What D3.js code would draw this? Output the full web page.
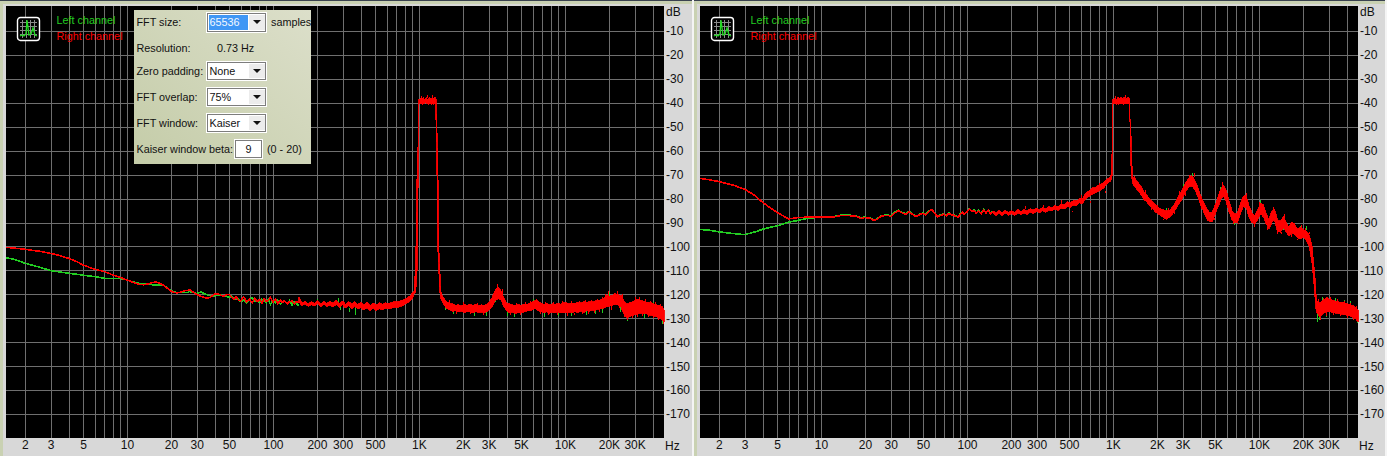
<!DOCTYPE html>
<html><head><meta charset="utf-8">
<script src="https://cdn.jsdelivr.net/npm/d3@7/dist/d3.min.js"></script>
<style>
html,body{margin:0;padding:0;background:#fff;overflow:hidden}
svg{display:block}
text{font-family:"Liberation Sans",Arial,sans-serif;font-size:10.8px;fill:#111}
</style></head><body><svg id="c" width="1387" height="456"></svg>
<script>
// ---------- axes ----------
const dbTicks=[-10,-20,-30,-40,-50,-60,-70,-80,-90,-100,-110,-120,-130,-140,-150,-160,-170];
const freqGrid=[2,3,4,5,6,7,8,9,10,20,30,40,50,60,70,80,90,100,200,300,400,500,600,700,800,900,1000,2000,3000,4000,5000,6000,7000,8000,9000,10000,20000,30000,40000];
const freqTicks=[2,3,5,10,20,30,50,100,200,300,500,1000,2000,3000,5000,10000,20000,30000];
const freqTickLabels=["2","3","5","10","20","30","50","100","200","300","500","1K","2K","3K","5K","10K","20K","30K"];
const channelNames=["Left channel","Right channel"];

// ---------- low frequency part, single traces ----------
const lineFreq=[1.49,1.7,2,2.5,3,3.5,4,4.5,5,5.5,
6,7,8,9,10,11,12,13,14,15,
16,17,18,19,20,21,22,23,24,25,
26,27,28,29,30,32,34,36,38,40,
42,44,46,48,50,52,54,56,58,60,
63,66,69,72,75,78,81,84,87,90,
93,96,100,104,108,112,116,120,125,130,
135,140,145,150];
const leftRedLine=[-100.4,-100.7,-101.2,-102,-102.9,-103.9,-105,-106.3,-107.7,-108.7,
-109.5,-110.5,-111.9,-113,-114,-115,-115.8,-116,-115.6,-115,
-114.9,-115.6,-116.4,-117.6,-118.6,-119.2,-119.4,-119.2,-118.8,-118.5,
-118.4,-118.2,-118.8,-119.4,-120,-120.8,-121.4,-121.6,-120.8,-119.8,
-119.8,-120.4,-120.8,-120.2,-120,-121.2,-122,-121,-122.4,-122.8,
-121,-123.2,-122,-123.6,-121.6,-123,-122.2,-123.6,-121.8,-123,
-122.4,-121.4,-123.2,-122,-124,-122.4,-123.4,-122.6,-124,-123,
-122.8,-124,-123,-123.6];
const leftGreenLine=[-104.7,-105.4,-107,-108.6,-110.1,-110.7,-111.2,-111.6,-112,-112.3,
-112.6,-113.3,-113.4,-113.4,-114,-114.8,-115.4,-115.4,-115.6,-116,
-116.1,-116.2,-116.4,-117.4,-118.5,-119,-119.2,-119.2,-119.2,-119.2,
-119.2,-118.8,-119.2,-119.4,-119.6,-119,-119.8,-120.4,-120.8,-120.6,
-120.4,-120.2,-120.8,-120.6,-121.4,-120.6,-121.8,-122.2,-122,-123,
-122.4,-123.6,-122,-121.4,-123,-122.6,-123.4,-122,-122.8,-123.6,
-122.2,-124.2,-122.6,-123.4,-122.4,-124,-123.4,-122.8,-123.8,-122.6,
-124.4,-123,-123.8,-124.8];
const rightRedLine=[-71.6,-72.1,-72.9,-74.4,-76.1,-78.6,-81.7,-83.9,-85.8,-87.2,
-88.5,-87.9,-87.8,-87.8,-87.8,-87.8,-87.8,-87.4,-87,-87,
-87.2,-87.2,-87.8,-88.3,-87.9,-88.1,-88.4,-89.2,-88.8,-88,
-87.2,-87.2,-87,-87.1,-87.5,-86,-85.1,-86,-86.6,-85.5,
-86.4,-87.4,-87.2,-86.6,-86.2,-86.8,-85.8,-84.8,-84.8,-86.2,
-87.6,-87,-86.6,-87.2,-86.2,-86.8,-87,-87.4,-87.9,-86.4,
-85.8,-86.6,-85.6,-84.4,-85.4,-85,-86.2,-85.2,-86.4,-84.8,
-86,-85,-86.4,-85.4];
const rightGreenLine=[-92.9,-93.2,-93.9,-94.6,-95.1,-94,-92.8,-92,-91.4,-90.6,
-89.9,-89.1,-88.3,-88,-87.8,-87.8,-87.7,-87.2,-86.8,-86.8,
-87,-87.2,-87.6,-88,-87.7,-88,-88.2,-89,-88.6,-87.8,
-87.2,-87,-86.8,-86.9,-87.2,-85.7,-84.9,-85.8,-86.3,-85.3,
-86.2,-87.2,-87,-86.4,-86,-86.6,-85.6,-84.8,-84.9,-86,
-87.4,-86.8,-86.4,-87,-86,-86.6,-86.8,-87.2,-87.6,-86.2,
-85.6,-86.4,-85.4,-84.2,-85.2,-84.8,-86,-85,-86.2,-84.6,
-85.8,-84.8,-86.2,-85.2];

// ---------- high frequency part, noise band (upper and lower edge) ----------
const bandFreq=[150,158,166,174,183,192,202,212,223,234,
246,258,271,285,299,314,330,346,363,381,
400,420,441,463,486,510,536,563,591,620,
650,683,717,753,790,830,871,900,925,950,
975,990,1000,1015,1030,1045,1060,1075,1090,1105,
1120,1135,1150,1165,1180,1195,1210,1225,1240,1255,
1270,1285,1300,1312,1325,1345,1365,1385,1410,1450,
1500,1560,1630,1700,1780,1860,1950,2040,2130,2230,
2330,2440,2550,2670,2790,2920,3050,3190,3340,3490,
3650,3820,3990,4170,4360,4560,4770,4990,5220,5460,
5710,5970,6240,6530,6830,7140,7470,7810,8170,8550,
8940,9350,9780,10200,10700,11200,11700,12200,12800,13400,
14000,14700,15400,16100,16800,17600,18400,19300,20200,21100,
22100,23100,23700,24200,24600,25000,25500,26100,27000,28100,
29200,30500,31800,33100,34500,36000,37500,39100,40800,42500,
44300,46200,47000,47700];
const leftBandHi=[-121,-123.6,-122.8,-124,-123,-123.8,-122.6,-124,-122.8,-123.8,
-122.8,-123.8,-122.4,-124,-122.6,-124.2,-123,-124,-123,-124.2,
-123.4,-124.4,-123.2,-124.6,-123.6,-124.4,-123.6,-124.2,-123.6,-123.8,
-123.4,-123,-123,-122.6,-122.2,-121.5,-120.6,-119.5,-118.8,-108,
-62,-57,-38.6,-38.4,-37.8,-38.6,-38,-37.6,-38.8,-38.2,
-38,-37.8,-38.6,-38.2,-37.6,-38.4,-38,-38.6,-37.4,-38.2,
-38,-37.6,-38.4,-38.6,-50,-62,-100,-108,-118.4,-120.6,
-122,-123.2,-124,-124,-124.6,-124.4,-124.8,-124.2,-124.6,-124.2,
-124.6,-124.2,-124.8,-124.4,-124.6,-124.2,-123,-121,-118,-116.8,
-118.6,-121.4,-123.6,-124,-124.4,-124.6,-124.2,-124.6,-124,-124.2,
-123.8,-123.2,-122.6,-122.8,-123.6,-124.2,-123.8,-124.4,-124,-124.2,
-123.8,-124.2,-123.6,-123.4,-124,-123.6,-123.8,-123.4,-123.6,-123.2,
-123.4,-123,-123.2,-122.8,-122.6,-122.2,-121.8,-120.2,-120.8,-120.4,
-119.8,-120,-120.6,-120.4,-121.4,-122,-123,-123.8,-124,-123.4,
-123,-122.4,-122,-122.6,-122.8,-123.2,-123.4,-123.6,-124,-124.4,
-124.6,-125,-125.8,-126.4];
const leftBandLo=[-123,-124.8,-124,-125,-124.4,-124.8,-124,-125.2,-124.2,-125,
-124.4,-125.4,-124.2,-125.6,-124.4,-125.8,-124.8,-126,-125,-126.2,
-125.6,-126.6,-125.6,-126.8,-125.8,-126.8,-126,-126.4,-125.8,-126,
-125.8,-125.4,-125.4,-125,-124.4,-123.6,-122.8,-121.6,-120,-119,
-108,-60,-40.4,-40.2,-40.6,-40,-40.8,-40.2,-40.6,-40,
-40.2,-40.6,-40,-40.8,-40.2,-40.6,-40.2,-40.8,-40.4,-40.6,
-40.6,-40.2,-40.6,-50,-62,-100,-108,-118,-121.6,-123.4,
-125,-126,-126.4,-127.2,-126.8,-127.4,-127,-127.6,-127.2,-127.4,
-127.8,-127.2,-127.6,-127.4,-127.8,-127.2,-126.4,-125,-122.4,-121.8,
-122.4,-125.2,-127,-127.8,-127.4,-128,-127.6,-127.8,-127.4,-127,
-126.8,-126.6,-126,-126.8,-127.2,-127.8,-127.2,-128,-127.4,-127.8,
-127.4,-127.8,-127.6,-127.8,-127.4,-127.8,-127.2,-127.6,-127,-127.4,
-126.8,-127,-126.6,-126.8,-126.2,-126,-125.8,-125.2,-125,-124.6,
-124.2,-124.4,-125,-125.4,-126.4,-127.4,-128.4,-129.4,-129.8,-129.2,
-128.8,-128.4,-128.2,-127.8,-128.2,-128,-128.6,-128.8,-129,-129.4,
-130,-130.4,-131,-131.6];
const rightBandHi=[-85,-86,-85,-85.8,-84.8,-85.8,-85,-85.8,-84.6,-85.4,
-84.6,-85.2,-84.2,-84.8,-84,-84.6,-83.6,-84.2,-83.4,-83.8,
-82.8,-83.4,-82.2,-82.6,-81.4,-81.8,-80.8,-81,-79.8,-80,
-77.6,-76.8,-75.6,-75.4,-74.6,-74,-73,-72,-71.6,-71,
-70,-57,-38.6,-38.6,-37.8,-38.2,-38.8,-38,-37.4,-38.6,
-38,-37.6,-38.4,-37.8,-38.6,-37.4,-38,-38.6,-37.8,-38.2,
-37.4,-38,-38.6,-50,-51,-65,-71,-71.4,-71,-72.6,
-73.6,-75,-77.4,-78.4,-80,-81.2,-82.6,-83.6,-84.4,-84.8,
-85.2,-84.8,-83.6,-81.8,-79.4,-77.2,-75,-72.8,-71,-70.4,
-72.6,-75.4,-78.8,-81.6,-84,-85.6,-85.8,-83,-79.6,-76.4,
-74.2,-76.6,-81,-85,-86.6,-85.8,-82,-79,-78.8,-83,
-85.8,-87,-85,-82,-82.4,-86,-89,-85.4,-84.4,-89,
-89.6,-87.4,-90,-91.8,-89.6,-91,-92.6,-92,-93,-93.4,
-95.4,-100,-107,-113,-120,-123,-123.4,-123.6,-122.6,-122,
-121.4,-122,-122.4,-122.8,-123,-123.4,-123.2,-123.8,-124,-124.4,
-124.8,-125.6,-126,-126.6];
const rightBandLo=[-86.2,-87.2,-86,-87.2,-86,-87,-86.2,-87.2,-86,-86.8,
-86,-86.6,-85.6,-86.4,-85.4,-86,-85,-85.8,-84.8,-85.2,
-84.4,-85,-84,-84.4,-83.4,-83.6,-82.8,-83,-81.8,-82,
-80,-79.2,-78.2,-77.8,-77,-76.4,-75.4,-74.2,-73.6,-73,
-72.4,-70,-40.6,-40.2,-40.6,-40,-40.8,-40.2,-40.6,-40.4,
-40.4,-40,-40.6,-40.2,-40.8,-40.4,-40,-40.6,-40.2,-40.6,
-40.2,-40.6,-40.6,-51,-65,-71,-73.4,-74.4,-75,-76,
-77,-78.6,-80.4,-81.4,-83,-84,-85.6,-86.4,-87.2,-88,
-88.6,-87.8,-86.6,-84.8,-82.8,-81,-79,-76.6,-75,-74.8,
-76.6,-79.2,-83,-85.4,-88,-89.4,-89.8,-87,-83.6,-80.4,
-79,-81.4,-85.6,-88.8,-90.2,-89.8,-86.4,-83.4,-83.8,-87.6,
-90,-90.8,-89,-86.6,-87,-90.6,-92.6,-90,-89,-93.8,
-94.2,-92.2,-94,-95.6,-94.4,-95,-96.6,-96.8,-96.2,-97.4,
-100,-107,-114,-121,-126,-128,-128.4,-129.6,-128.6,-127.6,
-127.4,-127.2,-127.6,-127.8,-128,-128.2,-128.4,-128.6,-128.8,-129.2,
-129.6,-130.4,-131,-131.6];

// ---------- red noise spikes that stick out of the band ----------
const leftRedSpikeFreq=[1040,1140,1230,1600,1800,2000,2250,2500,2750,3000,
3250,3450,3700,4200,4600,4900,5300,5800,6300,6700,
7300,7700,8300,8800,9600,10400,11000,11500,12500,13100,
13700,14400,15000,15800,16500,17200,18000,18900,19800,20600,
21600,22600,23400,24400,25300,26500,27500,28700,30000,31000,
32400,33800,35200,37000,38500,40000,41500,43500,45000,46800];
const leftRedSpikeHi=[-37,-36.8,-36.8,-122.4,-127,-123.4,-127.4,-123.8,-127.8,-123.6,
-118.6,-115.6,-117.6,-127.6,-123.8,-127.6,-123.2,-122.8,-121.8,-127,
-123,-127.4,-123.2,-127.6,-122.8,-127.8,-122.8,-127.6,-122.8,-127,
-122.4,-127,-122.2,-126.6,-122,-126,-121,-119.8,-118.6,-125,
-119.6,-118.8,-124.6,-120,-128.2,-129.4,-123,-129,-121.2,-128.2,
-121,-128,-122,-128.4,-122.6,-129,-123.2,-129.8,-124,-130.8];
const leftRedSpikeLo=[-38.5,-38,-38,-124,-128.2,-125,-128.4,-125,-128.6,-125,
-121,-118,-120,-128.8,-125,-128.6,-125,-124.4,-123.4,-128.2,
-125,-128.6,-125,-128.8,-124.6,-129,-124.6,-128.8,-124.4,-128.4,
-124,-128.2,-123.8,-127.8,-123.6,-127.4,-122.8,-121.6,-120.6,-126.4,
-121,-120.6,-125.8,-121.4,-129.4,-130.6,-124.4,-130,-122.8,-129.4,
-122.6,-129,-123.4,-129.4,-124,-130,-124.6,-130.8,-125.4,-132.2];
const rightRedSpikeFreq=[250,330,440,520,600,700,800,880,1040,1200,
1400,1520,1650,1820,2000,2200,2400,2600,2850,3100,
3300,3600,4000,4400,4900,5300,5600,6000,6600,7200,
7700,8100,8700,9200,10000,10500,11300,12000,12500,13300,
14200,14800,15500,16500,17400,18200,19500,20800,22000,25200,
26000,27500,29000,30500,32000,34000,36000,38000,40000,42000,
44000,46000];
const rightRedSpikeHi=[-83.2,-82.6,-80.8,-85,-78.6,-81,-73.6,-77,-37,-36.8,
-70.4,-77.6,-76.6,-84,-82.6,-88.4,-84,-85.6,-77,-77.8,
-70.2,-69.4,-83,-88.6,-88,-77,-73,-81.8,-89.8,-90,
-80,-77.6,-88,-91,-81.4,-86.8,-92,-86,-83.6,-93.8,
-94,-86.6,-94.6,-95,-90,-96.8,-91.2,-92.4,-93.8,-122,
-129.4,-121.4,-128,-121,-127.8,-122,-128.4,-122.8,-129,-123.8,
-130,-124.8];
const rightRedSpikeLo=[-84.2,-83.6,-81.8,-85.8,-79.6,-82,-74.6,-77.8,-38.4,-38,
-71.5,-78.6,-78,-84.8,-84,-89,-85,-86.6,-78.4,-78.8,
-71.4,-71,-84.2,-89.4,-88.8,-78,-74.6,-82.8,-90.6,-90.8,
-81,-79,-89,-91.8,-82.6,-87.6,-93,-87,-85,-94.6,
-95,-88,-95.4,-96,-91.4,-97.4,-92.4,-93.6,-95,-123.6,
-130.8,-122.6,-129.2,-122.4,-128.8,-123.4,-129.2,-124,-129.8,-125,
-130.8,-126];

// ---------- green specks that stick out from under the red band ----------
const leftSpeckFreq=[200,277,290,330,367,1500,1700,2400,2900,3300,4000,4500,6000,7200,9000,11000,14000,16000,18000,20000,24000,26500,31000,35000,40000,46000];
const leftSpeckHi=[-121.8,-121.4,-125,-125.5,-125,-125,-126.8,-127,-127.2,-121,-126.8,-127.6,-122,-127.4,-127,-127.5,-126.6,-126.4,-125.6,-119,-125,-129,-121.8,-128,-123.4,-130];
const leftSpeckLo=[-124,-124,-126.6,-127.4,-128.6,-126.6,-128.4,-129,-129,-123,-129,-129.4,-123.4,-129.4,-129,-129.2,-128.6,-128.4,-127.8,-121,-127.4,-131,-122.6,-129.8,-124.4,-132.4];
const rightSpeckFreq=[1360,1900,2300,3000,3500,5400,6800,10200,14500,19000,21000,25000,25600,27000,29000,33000,38000,42000,47000];
const rightSpeckHi=[-70,-84,-83.9,-74,-69.4,-75,-90,-80.8,-92,-91.4,-91.6,-128,-128,-121,-128,-121.4,-122.2,-122.8,-130];
const rightSpeckLo=[-72,-85,-85,-75,-71,-76.6,-91,-82.2,-93,-92.8,-93.2,-131.4,-130.6,-123,-129.6,-123,-124,-124.4,-132];

// ---------- dialog ----------
const dialogLabels=["FFT size:","Resolution:","Zero padding:","FFT overlap:","FFT window:","Kaiser window beta:"];
const dialogLabelRows=[22,48,71,97,123,149];
const comboValues=["65536","None","75%","Kaiser"];
const comboRows=[22,71,97,123];

// ---------- drawing ----------
const svg=d3.select("#c");
const PW=658, yTop=7, yBot=438;
const GREEN="#22cc22", RED="#ff0000", GRID="#6f6f6f", PANEL="#d8d8d8", BEIGE="#c9d1b2";
const defs=svg.append("defs");
const grad=defs.append("linearGradient").attr("id","dlg").attr("x1","0").attr("y1","1").attr("x2","1").attr("y2","0");
grad.append("stop").attr("offset","0").attr("stop-color","#c4cca8");
grad.append("stop").attr("offset","1").attr("stop-color","#dcdfca");

svg.append("rect").attr("width",1387).attr("height",456).attr("fill",BEIGE);
svg.append("rect").attr("width",1387).attr("height",1).attr("fill","#3a4250");
svg.append("rect").attr("x",3).attr("y",4).attr("width",689).attr("height",452).attr("fill",PANEL);
svg.append("rect").attr("x",692).attr("y",0).attr("width",2).attr("height",456).attr("fill","#f4f4f4");
svg.append("rect").attr("x",697).attr("y",4).attr("width",688).attr("height",452).attr("fill",PANEL);
svg.append("rect").attr("x",1385).attr("y",0).attr("width",2).attr("height",456).attr("fill","#f4f4f4");

const y=d3.scaleLinear().domain([0,-180]).range([yTop,yBot]);

function drawPanel(x0,cfg){
  const x=d3.scaleLog().domain([1.483,47700]).range([x0,x0+PW]);
  const g=svg.append("g");
  g.append("rect").attr("x",x0).attr("y",yTop-1).attr("width",PW).attr("height",yBot-yTop+1).attr("fill","#000");
  const grid=g.append("g").attr("shape-rendering","crispEdges").attr("stroke",GRID);
  grid.selectAll(".v").data(freqGrid).join("line").attr("class","v")
    .attr("x1",d=>Math.round(x(d))+.5).attr("x2",d=>Math.round(x(d))+.5).attr("y1",yTop-1).attr("y2",yBot);
  grid.selectAll(".h").data(dbTicks).join("line").attr("class","h")
    .attr("y1",d=>Math.round(y(d))+.5).attr("y2",d=>Math.round(y(d))+.5).attr("x1",x0).attr("x2",x0+PW);

  const line=d3.line().x(d=>x(d[0])).y(d=>y(d[1]));
  const area=d3.area().x(d=>x(d[0])).y1(d=>y(d[1])).y0(d=>y(d[2]));
  const marks=g.append("g").attr("shape-rendering","crispEdges");

  marks.append("path").attr("d",line(d3.zip(lineFreq,cfg.green))).attr("fill","none").attr("stroke",GREEN).attr("stroke-width",1.6);
  marks.selectAll(".sp").data(d3.zip(cfg.sf,cfg.sh,cfg.sl)).join("line").attr("class","sp")
    .attr("x1",d=>Math.round(x(d[0]))+.5).attr("x2",d=>Math.round(x(d[0]))+.5).attr("y1",d=>y(d[1])).attr("y2",d=>y(d[2]))
    .attr("stroke",GREEN).attr("stroke-width",1);
  marks.append("path").attr("d",line(d3.zip(lineFreq,cfg.red))).attr("fill","none").attr("stroke",RED).attr("stroke-width",1.6);
  marks.append("path").attr("d",area(d3.zip(bandFreq,cfg.hi,cfg.lo))).attr("fill",RED).attr("stroke",RED).attr("stroke-width",.9);
  marks.selectAll(".rs").data(d3.zip(cfg.rf,cfg.rh,cfg.rl)).join("line").attr("class","rs")
    .attr("x1",d=>Math.round(x(d[0]))+.5).attr("x2",d=>Math.round(x(d[0]))+.5).attr("y1",d=>y(d[1])).attr("y2",d=>y(d[2]))
    .attr("stroke",RED).attr("stroke-width",1);

  // x labels
  const ax=d3.axisBottom(x).tickValues(freqTicks).tickSize(0).tickPadding(0)
    .tickFormat(d=>freqTickLabels[freqTicks.indexOf(d)]);
  const axG=g.append("g").attr("transform",`translate(0,${yBot+1})`).call(ax);
  axG.select(".domain").remove();
  axG.selectAll("text").attr("dy",null).attr("y",7).attr("dominant-baseline","middle").style("font-size","12px").style("font-family",'"Liberation Sans",Arial,sans-serif').attr("fill","#111");
  g.append("text").attr("x",x0+PW+1).attr("y",450).text("Hz").style("font-size","12px");

  // y labels
  const ay=d3.axisRight(y).tickValues(dbTicks).tickSize(0).tickPadding(0).tickFormat(d=>d);
  const ayG=g.append("g").attr("transform",`translate(${x0+PW+2},0)`).call(ay);
  ayG.select(".domain").remove();
  ayG.selectAll("text").style("font-size","12px").style("font-family",'"Liberation Sans",Arial,sans-serif').attr("fill","#111");
  g.append("text").attr("x",x0+PW+2).attr("y",16).text("dB").style("font-size","12px");

  // icon
  const ic=g.append("g").attr("transform",`translate(${x0+11},17)`);
  ic.append("rect").attr("x",.5).attr("y",.5).attr("width",22).attr("height",23).attr("rx",3).attr("fill","#000").attr("stroke","#fff").attr("stroke-width",1.4);
  const icGrid=[5,9,13,17];
  ic.selectAll(".ig").data(icGrid).join("line").attr("class","ig").attr("x1",d=>d+.5).attr("x2",d=>d+.5).attr("y1",3).attr("y2",21).attr("stroke","#8a8a8a");
  ic.selectAll(".ih").data(icGrid).join("line").attr("class","ih").attr("y1",d=>d+.5).attr("y2",d=>d+.5).attr("x1",3).attr("x2",20).attr("stroke","#8a8a8a");
  const icSpikes=[[3,19],[5,18],[7,19],[9,17],[10,3],[12,18],[14,17],[16,11],[18,18],[20,19]];
  ic.append("path").attr("d",d3.line()(icSpikes)).attr("fill","none").attr("stroke","#22dd22").attr("stroke-width",1.3);

  // legend
  g.append("text").attr("x",x0+50.5).attr("y",24).style("fill",GREEN).style("font-size","10.8px").text(channelNames[0]);
  g.append("text").attr("x",x0+50.5).attr("y",40).style("fill",RED).style("font-size","10.8px").text(channelNames[1]);
}

drawPanel(6,{green:leftGreenLine,red:leftRedLine,hi:leftBandHi,lo:leftBandLo,sf:leftSpeckFreq,sh:leftSpeckHi,sl:leftSpeckLo,rf:leftRedSpikeFreq,rh:leftRedSpikeHi,rl:leftRedSpikeLo});
drawPanel(700,{green:rightGreenLine,red:rightRedLine,hi:rightBandHi,lo:rightBandLo,sf:rightSpeckFreq,sh:rightSpeckHi,sl:rightSpeckLo,rf:rightRedSpikeFreq,rh:rightRedSpikeHi,rl:rightRedSpikeLo});

// dialog panel
const dlg=svg.append("g");
dlg.append("rect").attr("x",134).attr("y",10).attr("width",177).attr("height",154).attr("fill","url(#dlg)");
dlg.selectAll(".lab").data(d3.zip(dialogLabels,dialogLabelRows)).join("text").attr("class","lab")
  .attr("x",136.5).attr("y",d=>d[1]+4).text(d=>d[0]);
function box(x,yy,w,h){
  dlg.append("rect").attr("x",x).attr("y",yy).attr("width",w).attr("height",h).attr("fill","#fff");
  dlg.append("rect").attr("x",x+1.5).attr("y",yy+1.5).attr("width",w-3).attr("height",h-3).attr("fill","#fff").attr("stroke","#7d7d7d").attr("stroke-width",1).attr("shape-rendering","crispEdges");
}
d3.zip(comboValues,comboRows).forEach((d,i)=>{
  const top=d[1]-10, h=i==0?21:20;
  box(206,top,61,h);
  if(i==0) dlg.append("rect").attr("x",209).attr("y",top+3).attr("width",39).attr("height",h-6).attr("fill","#3f97f5");
  dlg.append("rect").attr("x",249).attr("y",top+3).attr("width",16).attr("height",h-6).attr("fill","#ececec");
  dlg.append("path").attr("d",`M253 ${d[1]-2}h8l-4 4z`).attr("fill","#111");
  dlg.append("text").attr("x",209.5).attr("y",d[1]+4).style("fill",i==0?"#f4f8ff":"#111").text(d[0]);
});
dlg.append("text").attr("x",271).attr("y",26).text("samples");
dlg.append("text").attr("x",217).attr("y",52).text("0.73 Hz");
box(234,139,29,20);
dlg.append("text").attr("x",248.5).attr("y",153).attr("text-anchor","middle").text("9");
dlg.append("text").attr("x",267).attr("y",153).text("(0 - 20)");
</script></body></html>
